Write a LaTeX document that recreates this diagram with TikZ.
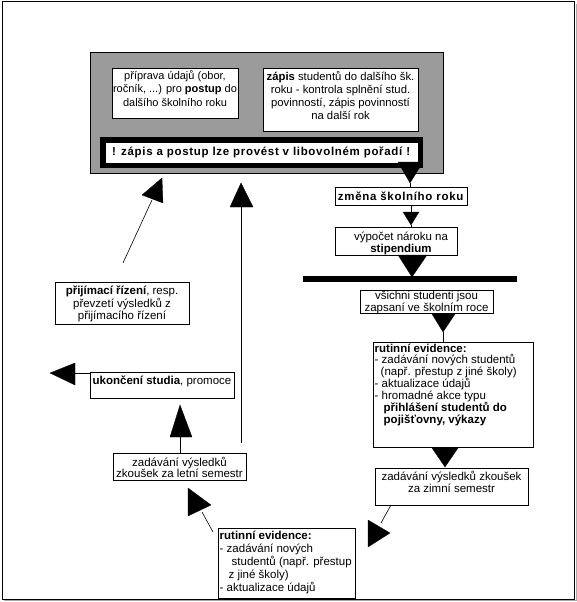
\documentclass[tikz,border=0pt]{standalone}
\usepackage{fontspec}
\setmainfont{Liberation Sans}
\newfontfamily\widefont{Liberation Sans}[LetterSpace=6]
\definecolor{graybox}{RGB}{155,155,155}
\definecolor{shadowgray}{RGB}{170,170,170}
\begin{document}
\begin{tikzpicture}[x=1pt,y=-1pt,
  box/.style={draw=black, fill=white, line width=0.8pt, inner sep=0pt},
  txt/.style={inner sep=0pt, align=center, font=\fontsize{11.5}{12}\selectfont},
  tri/.style={fill=black, draw=black, line width=0.3pt, line join=miter},
  con/.style={draw=black, line width=0.6pt}]
\useasboundingbox (0,0) rectangle (577,602);
\fill[white] (0,0) rectangle (577,602);
% outer frame
\draw[shadowgray, line width=1pt] (4,600.5) -- (576.2,600.5) -- (576.2,4);
\draw[black, line width=1pt] (2,2) rectangle (574.8,599.2);

% ---- top gray group
\node[draw=black, fill=graybox, line width=0.8pt, inner sep=0pt,
      minimum width=353, minimum height=121] (grp) at (266.5,112.5) {};
\node[box, minimum width=126, minimum height=50] (prep) at (175,93) {};
\node[txt, font=\fontsize{11}{13.3}\selectfont] (prept) at (175,88.5)
  {příprava údajů (obor,\\ročník, ...) pro \textbf{postup} do\\dalšího školního roku};
\node[box, minimum width=155, minimum height=63] (zap) at (340.5,99.5) {};
\node[txt, font=\fontsize{11.3}{13.3}\selectfont] (zapt) at (340.5,95.5)
  {\textbf{zápis} studentů do dalšího šk.\\roku - kontrola splnění stud.\\povinností, zápis povinností\\na další rok};
\node[draw=black, fill=white, line width=5.5pt, inner sep=0pt,
      minimum width=317.5, minimum height=25.5] (bar) at (261.5,152.5) {};
\node[txt, font=\widefont\fontsize{11.5}{12}\selectfont] (bart) at (261.5,152.5) {\textbf{! zápis a postup lze provést v libovolném pořadí !}};

% ---- right chain
\coordinate (t1a) at (398,162); \coordinate (t1b) at (423,162); \coordinate (t1c) at (410,183);
\fill[tri] (t1a) -- (t1b) -- (t1c) -- cycle;
\node[box, minimum width=132, minimum height=18] (zmena) at (401,196) {};
\node[txt, font=\widefont\fontsize{11.5}{12}\selectfont] (zmenat) at (401,196.5) {\textbf{změna školního roku}};
\draw[con] (t1c) -- (t1c |- zmena.north);

\coordinate (t2a) at (403,212); \coordinate (t2b) at (419,212); \coordinate (t2c) at (411,225);
\draw[con] (t2a -| t2c) |- (zmena.south -| t2c);
\fill[tri] (t2a) -- (t2b) -- (t2c) -- cycle;
\node[box, minimum width=122, minimum height=28] (vyp) at (396,241) {};
\node[txt] (vypt) at (401,243) {výpočet nároku na\\\textbf{stipendium}};
\draw[con] (t2c) -- (t2c |- vyp.north);

\coordinate (t3a) at (398,255); \coordinate (t3b) at (427,255); \coordinate (t3c) at (412,277);
\fill[tri] (t3a) -- (t3b) -- (t3c) -- cycle;
\node[fill=black, inner sep=0pt, minimum width=214, minimum height=6.5] (sync) at (410,279) {};

\node[box, minimum width=133, minimum height=23] (vse) at (426.5,301.5) {};
\node[txt, font=\fontsize{11.5}{11.7}\selectfont] (vset) at (426.5,302.5) {všichni studenti jsou\\zapsaní ve školním roce};

\coordinate (t4a) at (432,314); \coordinate (t4b) at (455,314); \coordinate (t4c) at (443,332);
\fill[tri] (t4a) -- (t4b) -- (t4c) -- cycle;
\node[box, minimum width=160, minimum height=105] (rutr) at (453,394.5) {};
\draw[con] (t4c) -- (t4c |- rutr.north);
\node[txt, align=left, anchor=north west, font=\fontsize{11.5}{11.3}\selectfont] (rutrt) at (374.5,344)
  {\textbf{rutinní evidence:}\\
   - zadávání nových studentů\\
   \hspace*{6pt}(např. přestup z jiné školy)\\
   - aktualizace údajů\\
   - hromadné akce typu\\
   \hspace*{9pt}\textbf{přihlášení studentů do}\\
   \hspace*{9pt}\textbf{pojišťovny, výkazy}};

\coordinate (t5a) at (432,448); \coordinate (t5b) at (458,448); \coordinate (t5c) at (445,467);
\fill[tri] (t5a) -- (t5b) -- (t5c) -- cycle;
\node[box, minimum width=153, minimum height=37] (zim) at (451.5,486.5) {};
\node[txt, font=\fontsize{11.5}{11.5}\selectfont] (zimt) at (451.5,482) {zadávání výsledků zkoušek\\za zimní semestr};

% ---- bottom
\coordinate (z1) at (391,505); \coordinate (z2) at (381,523);
\draw[con] (z1) -- (z2);
\fill[tri] (368,520) -- (368,547) -- (390,533) -- cycle;

\node[box, minimum width=137, minimum height=70] (rutb) at (286.5,563) {};
\node[txt, align=left, anchor=north west, font=\fontsize{11.5}{12.9}\selectfont] (rutbt) at (219.5,531)
  {\textbf{rutinní evidence:}\\
   - zadávání nových\\
   \hspace*{12pt}studentů (např. přestup\\
   \hspace*{9pt}z jiné školy)\\
   - aktualizace údajů};

\coordinate (b1) at (213,532); \coordinate (b2) at (202,512);
\draw[con] (b1) -- (b2);
\fill[tri] (188,488) -- (188,516) -- (211,505) -- cycle;

\node[box, minimum width=133, minimum height=27] (let) at (179.5,466.5) {};
\node[txt, font=\fontsize{11.5}{11.7}\selectfont] (lett) at (179.5,467.5) {zadávání výsledků\\zkoušek za letní semestr};

\coordinate (l1) at (180,437);
\draw[con] (l1) -- (l1 |- let.north);
\fill[tri] (170,437) -- (192,437) -- (180,405) -- cycle;

\node[box, minimum width=144, minimum height=26] (uko) at (162,385) {};
\node[txt] (ukot) at (162,381.5) {\textbf{ukončení studia}, promoce};
\coordinate (u1) at (75,373);
\draw[con] (uko.west |- u1) -- (u1);
\fill[tri] (75,363) -- (75,385) -- (50,373) -- cycle;

\coordinate (v1) at (241,443); \coordinate (v2) at (241,207);
\draw[con] (v1) -- (v2);
\fill[tri] (230,207) -- (253,207) -- (241,183) -- cycle;

\node[box, minimum width=134, minimum height=42] (prij) at (122,303) {};
\node[txt, font=\fontsize{11.5}{12.5}\selectfont] (prijt) at (122,304)
  {\textbf{přijímací řízení}, resp.\\převzetí výsledků z\\přijímacího řízení};
\coordinate (p1) at (123,263); \coordinate (p2) at (152,200);
\draw[con] (p1) -- (p2);
\fill[tri] (162,178) -- (142,195) -- (163,203) -- cycle;
\end{tikzpicture}
\end{document}
